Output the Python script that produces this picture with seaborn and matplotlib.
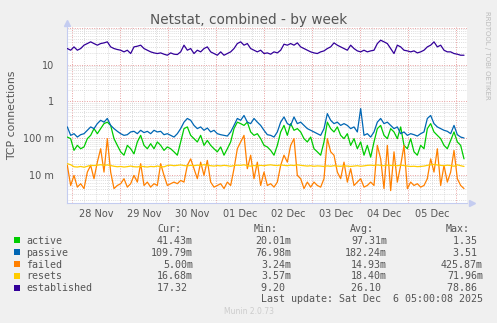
import numpy as np
import pandas as pd
import matplotlib
matplotlib.use("Agg")
import matplotlib.pyplot as plt
import matplotlib.dates as mdates
from matplotlib.ticker import FixedLocator, FixedFormatter, LogLocator, NullFormatter, FuncFormatter
from matplotlib.patches import Rectangle
import seaborn as sns

# ---------------- data ----------------
times = pd.date_range("2025-11-27 21:30", periods=120, freq="100min")

active = [
    0.106, 0.096, 0.046, 0.063, 0.051, 0.057, 0.096, 0.118, 0.180, 0.131,
    0.180, 0.246, 0.270, 0.220, 0.096, 0.063, 0.042, 0.034, 0.063, 0.051,
    0.037, 0.078, 0.118, 0.063, 0.051, 0.070, 0.051, 0.078, 0.063, 0.046,
    0.057, 0.051, 0.042, 0.034, 0.078, 0.180, 0.200, 0.118, 0.096, 0.078,
    0.118, 0.063, 0.086, 0.063, 0.051, 0.042, 0.057, 0.034, 0.051, 0.078,
    0.180, 0.270, 0.246, 0.220, 0.270, 0.146, 0.118, 0.131, 0.096, 0.063,
    0.057, 0.046, 0.034, 0.063, 0.146, 0.220, 0.118, 0.246, 0.162, 0.180,
    0.146, 0.096, 0.078, 0.106, 0.051, 0.042, 0.034, 0.078, 0.270, 0.180,
    0.146, 0.200, 0.118, 0.096, 0.131, 0.063, 0.096, 0.051, 0.078, 0.034,
    0.063, 0.030, 0.078, 0.180, 0.220, 0.118, 0.096, 0.180, 0.146, 0.096,
    0.200, 0.063, 0.051, 0.096, 0.042, 0.034, 0.063, 0.051, 0.180, 0.246,
    0.146, 0.118, 0.096, 0.063, 0.051, 0.086, 0.146, 0.078, 0.063, 0.027,
]

passive = [
    0.200, 0.118, 0.131, 0.106, 0.123, 0.131, 0.162, 0.200, 0.180, 0.246,
    0.303, 0.270, 0.340, 0.220, 0.180, 0.152, 0.131, 0.118, 0.123, 0.146,
    0.152, 0.131, 0.162, 0.140, 0.152, 0.131, 0.162, 0.146, 0.152, 0.123,
    0.131, 0.118, 0.106, 0.131, 0.180, 0.270, 0.340, 0.303, 0.220, 0.180,
    0.200, 0.162, 0.187, 0.146, 0.162, 0.131, 0.123, 0.118, 0.113, 0.146,
    0.220, 0.340, 0.303, 0.410, 0.270, 0.246, 0.340, 0.270, 0.220, 0.162,
    0.123, 0.118, 0.106, 0.146, 0.270, 0.374, 0.246, 0.220, 0.374, 0.246,
    0.270, 0.220, 0.180, 0.162, 0.146, 0.131, 0.118, 0.180, 0.461, 0.303,
    0.246, 0.270, 0.220, 0.246, 0.220, 0.180, 0.200, 0.146, 0.631, 0.118,
    0.131, 0.106, 0.146, 0.270, 0.340, 0.246, 0.270, 0.220, 0.180, 0.200,
    0.131, 0.146, 0.118, 0.131, 0.123, 0.113, 0.131, 0.146, 0.340, 0.410,
    0.246, 0.200, 0.180, 0.162, 0.152, 0.131, 0.220, 0.123, 0.106, 0.100,
]

failed = [
    0.018, 0.0051, 0.0096, 0.0046, 0.0057, 0.0042, 0.0118, 0.018, 0.0078, 0.022,
    0.051, 0.0118, 0.096, 0.0118, 0.0042, 0.0051, 0.0057, 0.0078, 0.0046, 0.0057,
    0.0096, 0.0063, 0.020, 0.0051, 0.0063, 0.0046, 0.0057, 0.0051, 0.020, 0.0096,
    0.0051, 0.0057, 0.0063, 0.0057, 0.0070, 0.0063, 0.018, 0.027, 0.0146, 0.0078,
    0.022, 0.0096, 0.0246, 0.0063, 0.0046, 0.0051, 0.0057, 0.0042, 0.0063, 0.0051,
    0.0146, 0.051, 0.078, 0.118, 0.0146, 0.034, 0.0078, 0.022, 0.0051, 0.0118,
    0.0051, 0.0057, 0.0046, 0.0063, 0.018, 0.034, 0.022, 0.063, 0.096, 0.0096,
    0.0078, 0.0042, 0.0063, 0.0046, 0.0063, 0.0051, 0.0046, 0.0078, 0.096, 0.042,
    0.034, 0.0118, 0.0078, 0.022, 0.0063, 0.0146, 0.0051, 0.0063, 0.0078, 0.0046,
    0.0051, 0.0063, 0.0051, 0.063, 0.027, 0.0042, 0.063, 0.0037, 0.042, 0.0063,
    0.018, 0.063, 0.0042, 0.0063, 0.0051, 0.0057, 0.0046, 0.0051, 0.0078, 0.027,
    0.0118, 0.051, 0.0051, 0.018, 0.0063, 0.0118, 0.046, 0.0078, 0.0051, 0.0042,
]

resets = [
    0.0200, 0.0187, 0.0165, 0.0162, 0.0168, 0.0160, 0.0170, 0.0180, 0.0178, 0.0182,
    0.0187, 0.0180, 0.0185, 0.0178, 0.0170, 0.0165, 0.0168, 0.0162, 0.0166, 0.0172,
    0.0165, 0.0163, 0.0170, 0.0166, 0.0162, 0.0168, 0.0165, 0.0172, 0.0166, 0.0164,
    0.0178, 0.0182, 0.0176, 0.0180, 0.0185, 0.0178, 0.0174, 0.0180, 0.0176, 0.0182,
    0.0178, 0.0188, 0.0180, 0.0176, 0.0172, 0.0178, 0.0174, 0.0180, 0.0176, 0.0170,
    0.0178, 0.0182, 0.0180, 0.0186, 0.0176, 0.0172, 0.0178, 0.0174, 0.0180, 0.0176,
    0.0182, 0.0186, 0.0180, 0.0178, 0.0184, 0.0180, 0.0176, 0.0182, 0.0178, 0.0186,
    0.0180, 0.0176, 0.0172, 0.0176, 0.0170, 0.0174, 0.0172, 0.0168, 0.0174, 0.0170,
    0.0176, 0.0172, 0.0170, 0.0174, 0.0172, 0.0168, 0.0172, 0.0176, 0.0170, 0.0174,
    0.0180, 0.0182, 0.0178, 0.0184, 0.0180, 0.0176, 0.0182, 0.0178, 0.0180, 0.0176,
    0.0182, 0.0178, 0.0172, 0.0168, 0.0170, 0.0166, 0.0168, 0.0172, 0.0180, 0.0186,
    0.0190, 0.0184, 0.0180, 0.0176, 0.0182, 0.0178, 0.0170, 0.0186, 0.0176, 0.0168,
]

established = [
    27.2, 24.5, 30.2, 24.5, 27.2, 33.6, 37.2, 41.4, 37.2, 33.6,
    37.2, 38.8, 41.4, 30.2, 27.2, 25.6, 24.5, 22.1, 24.5, 19.9,
    30.2, 31.5, 33.6, 27.2, 24.5, 22.1, 20.7, 19.9, 20.7, 19.1,
    17.9, 20.7, 19.1, 18.7, 22.1, 33.6, 24.5, 27.2, 19.9, 24.5,
    22.1, 27.2, 30.2, 22.1, 19.9, 17.9, 22.1, 17.9, 19.9, 22.1,
    27.2, 37.2, 41.4, 33.6, 37.2, 27.2, 24.5, 22.1, 24.5, 19.9,
    20.7, 19.1, 22.1, 20.7, 24.5, 35.7, 33.6, 37.2, 33.6, 38.8,
    30.2, 27.2, 24.5, 22.1, 20.7, 19.9, 22.1, 23.5, 27.2, 30.2,
    38.8, 33.6, 30.2, 27.2, 24.5, 33.6, 27.2, 23.5, 22.1, 24.5,
    22.1, 23.5, 24.5, 37.2, 45.9, 41.4, 37.2, 27.2, 19.9, 33.6,
    30.2, 24.5, 23.5, 22.1, 23.5, 20.7, 22.1, 24.5, 30.2, 33.6,
    41.4, 30.2, 33.6, 24.5, 22.1, 22.1, 19.9, 19.1, 17.9, 17.9,
]

series_names = ["active", "passive", "failed", "resets", "established"]
series_colors = ["#00CC00", "#0066B3", "#FF8000", "#FFCC00", "#330099"]
stat_cur = ["41.43m", "109.79m", "5.00m", "16.68m", "17.32 "]
stat_min = ["20.01m", "76.98m", "3.24m", "3.57m", "9.20 "]
stat_avg = ["97.31m", "182.24m", "14.93m", "18.40m", "26.10 "]
stat_max = ["1.35 ", "3.51 ", "425.87m", "71.96m", "78.86 "]
ytick_values = [0.01, 0.1, 1, 10, 100]
ytick_labels = ["10 m", "100 m", "1", "10", ""]

title = "Netstat, combined - by week"
ylabel = "TCP connections"
last_update = "Last update: Sat Dec  6 05:00:08 2025"

# ---------------- figure ----------------
W, H = 497, 323
BG = "#F0F0F0"
TXT = "#555555"
sns.set_style("white")
plt.rcParams["font.family"] = ["DejaVu Sans"]

fig = plt.figure(figsize=(W / 100, H / 100), dpi=100, facecolor=BG)
ax = fig.add_axes([67 / W, 1 - 203 / H, 400 / W, 176 / H])
ax.set_facecolor("white")

df = pd.DataFrame({"time": times, "active": active, "passive": passive,
                   "failed": failed, "resets": resets, "established": established})
long = df.melt(id_vars="time", var_name="series", value_name="value")
sns.lineplot(data=long, x="time", y="value", hue="series", hue_order=series_names,
             palette=dict(zip(series_names, series_colors)), linewidth=0.9,
             estimator=None, legend=False, ax=ax, zorder=3)

ax.set_yscale("log")
ax.set_ylim(1.7e-3, 105)
ax.set_xlim(pd.Timestamp("2025-11-27 21:20"), pd.Timestamp("2025-12-06 05:20"))

# y grid / ticks
ax.yaxis.set_major_locator(FixedLocator(ytick_values))
ax.yaxis.set_major_formatter(FixedFormatter(ytick_labels))
ax.yaxis.set_minor_locator(LogLocator(base=10, subs=np.arange(2, 10)))
ax.yaxis.set_minor_formatter(NullFormatter())

# x grid / ticks
ax.xaxis.set_major_locator(mdates.DayLocator())
ax.xaxis.set_major_formatter(FuncFormatter(lambda v, p: ""))
ax.xaxis.set_minor_locator(mdates.HourLocator(byhour=[0, 6, 12, 18]))


def xfmt(v, pos):
    d = mdates.num2date(v)
    return d.strftime("%d %b") if d.hour == 12 else ""


ax.xaxis.set_minor_formatter(FuncFormatter(xfmt))

ax.grid(which="major", color="#E8A0A0", linestyle=(0, (1, 1.5)), linewidth=0.7, zorder=1)
ax.grid(which="minor", color="#D2D2D2", linestyle=(0, (1, 1.5)), linewidth=0.6, zorder=1)
ax.set_axisbelow(True)

ax.tick_params(axis="y", which="both", length=0, pad=9.5, labelsize=7, labelcolor=TXT)
ax.tick_params(axis="x", which="major", length=3, color="#E8A0A0", direction="out")
ax.tick_params(axis="x", which="minor", length=0, pad=4.5, labelsize=7, labelcolor=TXT)

for s in ["top", "right"]:
    ax.spines[s].set_visible(False)
for s in ["left", "bottom"]:
    ax.spines[s].set_color("#C4CCF0")
    ax.spines[s].set_linewidth(0.8)
ax.plot([0], [1.025], marker="^", color="#C4CCF0", markersize=4, transform=ax.transAxes, clip_on=False)
ax.plot([1.012], [0], marker=">", color="#C4CCF0", markersize=4, transform=ax.transAxes, clip_on=False)
ax.set_xlabel("")
ax.set_ylabel("")

# texts
fig.text(0.5, 1 - 24 / H, title, ha="center", va="baseline", fontsize=9.8, color=TXT)
fig.text(12 / W, 1 - 115 / H, ylabel, ha="center", va="center", rotation=90, fontsize=7.8, color=TXT)
fig.text(487 / W, 1 - 55 / H, "RRDTOOL / TOBI OETIKER", ha="center", va="center", rotation=270,
         fontsize=5, color="#BBBBBB")
fig.text(0.5, 1 - 312 / H, "Munin 2.0.73", ha="center", va="center", fontsize=5.5, color="#CCCCCC")

mono = "DejaVu Sans Mono"
fs = 7.2
hdr_base = 231.5
fig.text(181 / W, 1 - hdr_base / H, "Cur:", ha="right", va="baseline", family=mono, fontsize=fs, color=TXT)
fig.text(278 / W, 1 - hdr_base / H, "Min:", ha="right", va="baseline", family=mono, fontsize=fs, color=TXT)
fig.text(374 / W, 1 - hdr_base / H, "Avg:", ha="right", va="baseline", family=mono, fontsize=fs, color=TXT)
fig.text(470 / W, 1 - hdr_base / H, "Max:", ha="right", va="baseline", family=mono, fontsize=fs, color=TXT)
for i, name in enumerate(series_names):
    cy = 240 + 11.95 * i
    base = cy + 3.6
    fig.patches.append(Rectangle((14 / W, 1 - (cy + 3) / H), 6 / W, 6 / H, transform=fig.transFigure,
                                 facecolor=series_colors[i], edgecolor="none"))
    fig.text(26 / W, 1 - base / H, name, ha="left", va="baseline", family=mono, fontsize=fs, color=TXT)
    fig.text(193 / W, 1 - base / H, stat_cur[i], ha="right", va="baseline", family=mono, fontsize=fs, color=TXT)
    fig.text(291 / W, 1 - base / H, stat_min[i], ha="right", va="baseline", family=mono, fontsize=fs, color=TXT)
    fig.text(387 / W, 1 - base / H, stat_avg[i], ha="right", va="baseline", family=mono, fontsize=fs, color=TXT)
    fig.text(483 / W, 1 - base / H, stat_max[i], ha="right", va="baseline", family=mono, fontsize=fs, color=TXT)
fig.text(483 / W, 1 - 302.5 / H, last_update, ha="right", va="baseline", family=mono, fontsize=fs, color=TXT)

fig.savefig("out.png", dpi=100, facecolor=BG)
